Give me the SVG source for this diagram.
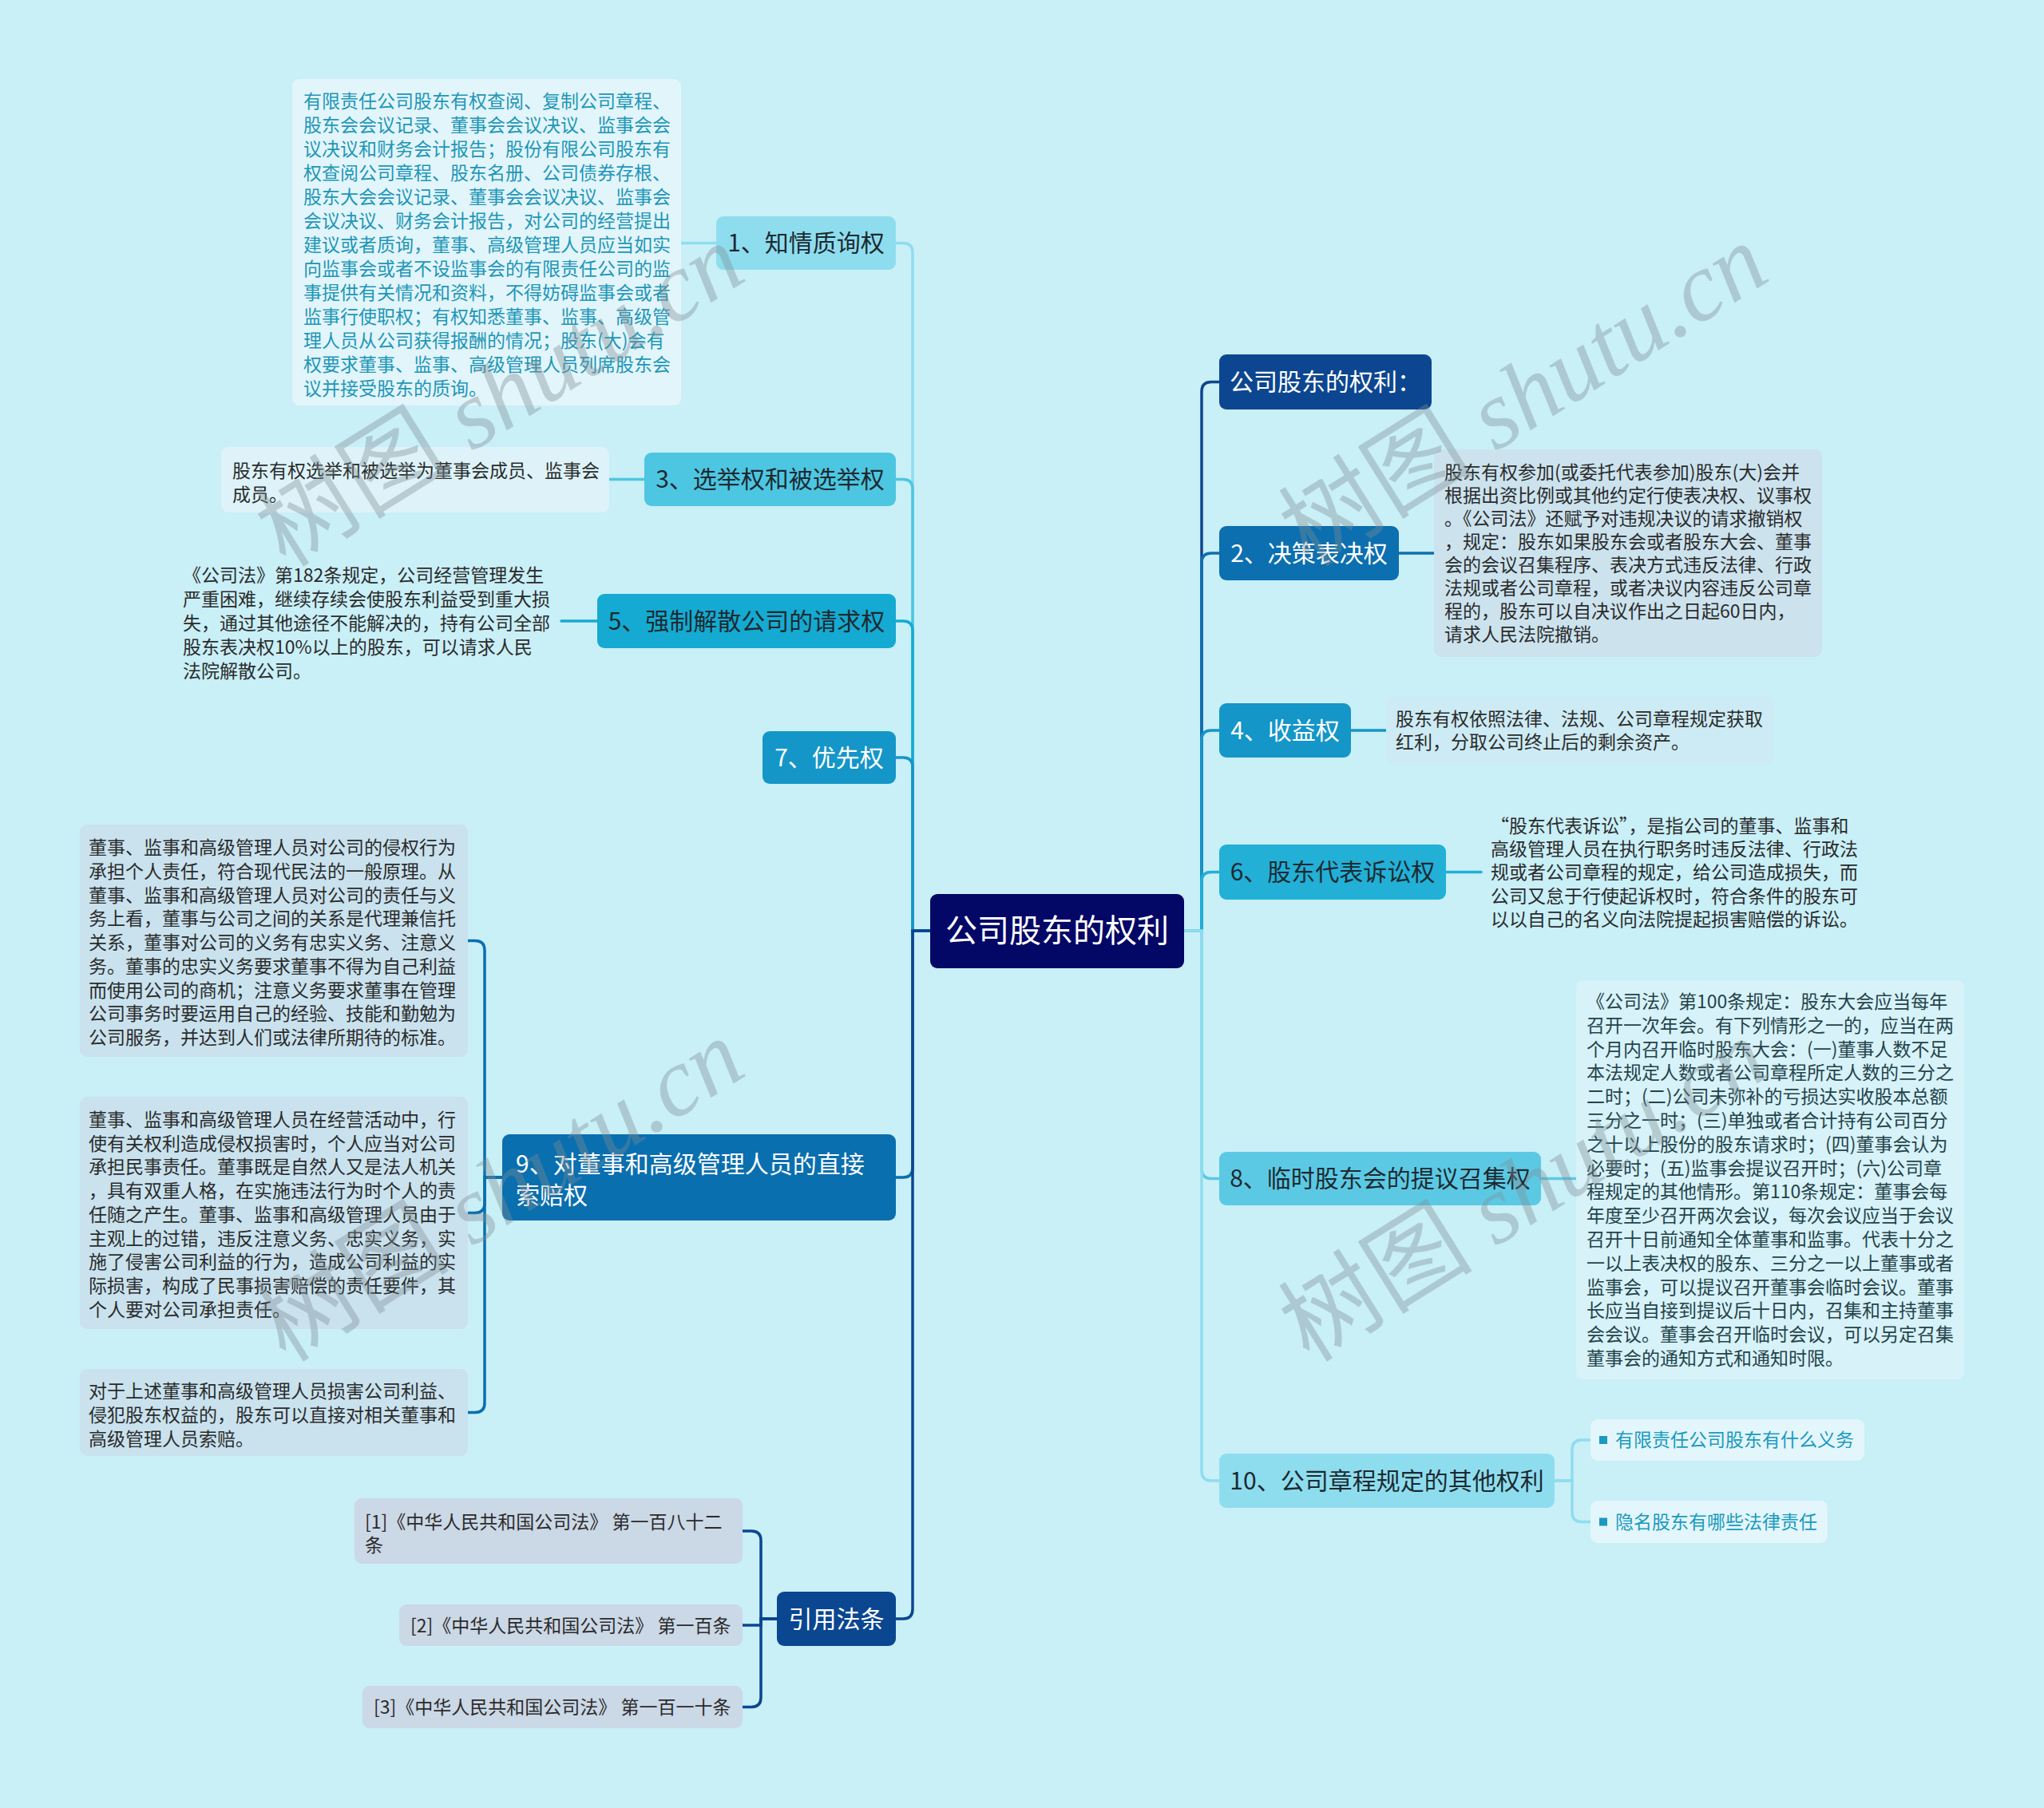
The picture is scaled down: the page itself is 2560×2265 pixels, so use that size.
<svg xmlns="http://www.w3.org/2000/svg" width="2560" height="2265" viewBox="0 0 2560 2265">
<style>
text{font-family:"Noto Sans CJK SC","Liberation Sans",sans-serif;}
.n30{font-size:30px;text-anchor:middle;}
.t23{font-size:23px;fill:#2b2b2b;}
.w{fill:#ffffff;}
.d{fill:#1c2a30;}
.c path{fill:none;stroke-width:3.5;stroke-linecap:round;}
.wm{font-family:"Liberation Serif","Noto Sans CJK SC",serif;font-size:122px;fill:#7E8E94;opacity:0.38;}
</style>
<rect width="2560" height="2265" fill="#C9EFF7"/>

<g id="connectors" class="c">
  <path d="M1165,1166 H1143 V316.5 Q1143,304.5 1131,304.5 H1122" stroke="#8EDDEF"/>
  <path d="M1165,1166 H1143 V612.5 Q1143,600.5 1131,600.5 H1122" stroke="#4DC6E2"/>
  <path d="M1165,1166 H1143 V790 Q1143,778 1131,778 H1122" stroke="#15AAD2"/>
  <path d="M1165,1166 H1143 V961 Q1143,949 1131,949 H1122" stroke="#1596C8"/>
  <path d="M1165,1166 H1143 V1463 Q1143,1475 1131,1475 H1122" stroke="#0A6FAF"/>
  <path d="M1165,1166 H1143 V2016 Q1143,2028 1131,2028 H1122" stroke="#0B4690"/>
  <path d="M1483,1166 H1505 V490.5 Q1505,478.5 1517,478.5 H1527" stroke="#0D4690"/>
  <path d="M1483,1166 H1505 V705 Q1505,693 1517,693 H1527" stroke="#0C6FAF"/>
  <path d="M1483,1166 H1505 V927 Q1505,915 1517,915 H1527" stroke="#1496C8"/>
  <path d="M1483,1166 H1505 V1104.5 Q1505,1092.5 1517,1092.5 H1527" stroke="#22B0D7"/>
  <path d="M1483,1166 H1505 V1464.5 Q1505,1476.5 1517,1476.5 H1527" stroke="#5CC9E4"/>
  <path d="M1483,1166 H1505 V1843 Q1505,1855 1517,1855 H1527" stroke="#8EDDEF"/>
  <path d="M897,304.5 H853" stroke="#8EDDEF"/>
  <path d="M807,600.5 H763" stroke="#4DC6E2"/>
  <path d="M748,778 H703" stroke="#15AAD2"/>
  <path d="M629,1475 H607 V1190.5 Q607,1178.5 595,1178.5 H586" stroke="#0A6FAF"/>
  <path d="M629,1475 H607 V1507.5 Q607,1519.5 595,1519.5 H586" stroke="#0A6FAF"/>
  <path d="M629,1475 H607 V1757.5 Q607,1769.5 595,1769.5 H586" stroke="#0A6FAF"/>
  <path d="M973,2028 H953 V1930 Q953,1918 941,1918 H930" stroke="#0B4690"/>
  <path d="M973,2028 H953 V2036 H930" stroke="#0B4690"/>
  <path d="M973,2028 H953 V2126.5 Q953,2138.5 941,2138.5 H930" stroke="#0B4690"/>
  <path d="M1752,693 H1796" stroke="#0C6FAF"/>
  <path d="M1692,915 H1736" stroke="#1496C8"/>
  <path d="M1811,1092.5 H1855" stroke="#22B0D7"/>
  <path d="M1930,1476.5 H1974" stroke="#5CC9E4"/>
  <path d="M1947,1855 H1969 V1816 Q1969,1804 1981,1804 H1992" stroke="#8EDDEF"/>
  <path d="M1947,1855 H1969 V1894.5 Q1969,1906.5 1981,1906.5 H1992" stroke="#8EDDEF"/>
</g>

<g id="root">
  <rect x="1165" y="1120" width="318" height="93" rx="9" fill="#030766"/>
  <text x="1324" y="1180" class="w" style="font-size:40px;text-anchor:middle">公司股东的权利</text>
</g>

<g id="n1">
  <rect x="897" y="271" width="225" height="67" rx="9" fill="#8EDDEF"/>
  <text x="1009.5" y="315" class="n30 d">1、知情质询权</text>
</g>
<g id="n1d">
  <rect x="366" y="99" width="487" height="409" rx="9" fill="#E2F5FA"/>
  <text class="t23" style="fill:#2196B8">
    <tspan x="380" y="135">有限责任公司股东有权查阅、复制公司章程、</tspan>
    <tspan x="380" y="165">股东会会议记录、董事会会议决议、监事会会</tspan>
    <tspan x="380" y="195">议决议和财务会计报告；股份有限公司股东有</tspan>
    <tspan x="380" y="225">权查阅公司章程、股东名册、公司债券存根、</tspan>
    <tspan x="380" y="255">股东大会会议记录、董事会会议决议、监事会</tspan>
    <tspan x="380" y="285">会议决议、财务会计报告，对公司的经营提出</tspan>
    <tspan x="380" y="315">建议或者质询，董事、高级管理人员应当如实</tspan>
    <tspan x="380" y="345">向监事会或者不设监事会的有限责任公司的监</tspan>
    <tspan x="380" y="375">事提供有关情况和资料，不得妨碍监事会或者</tspan>
    <tspan x="380" y="405">监事行使职权；有权知悉董事、监事、高级管</tspan>
    <tspan x="380" y="435">理人员从公司获得报酬的情况；股东(大)会有</tspan>
    <tspan x="380" y="465">权要求董事、监事、高级管理人员列席股东会</tspan>
    <tspan x="380" y="495">议并接受股东的质询。</tspan>
  </text>
</g>

<g id="n3">
  <rect x="807" y="567" width="315" height="67" rx="9" fill="#4DC6E2"/>
  <text x="964.5" y="611" class="n30 d">3、选举权和被选举权</text>
</g>
<g id="n3d">
  <rect x="277" y="560" width="486" height="82" rx="9" fill="#DDF3F9"/>
  <text class="t23">
    <tspan x="291" y="598">股东有权选举和被选举为董事会成员、监事会</tspan>
    <tspan x="291" y="628">成员。</tspan>
  </text>
</g>

<g id="n5">
  <rect x="748" y="744" width="374" height="68" rx="9" fill="#15AAD2"/>
  <text x="935" y="788.5" class="n30 d">5、强制解散公司的请求权</text>
</g>
<g id="n5d">
  <text class="t23">
    <tspan x="229" y="729">《公司法》第182条规定，公司经营管理发生</tspan>
    <tspan x="229" y="759">严重困难，继续存续会使股东利益受到重大损</tspan>
    <tspan x="229" y="789">失，通过其他途径不能解决的，持有公司全部</tspan>
    <tspan x="229" y="819">股东表决权10%以上的股东，可以请求人民</tspan>
    <tspan x="229" y="849">法院解散公司。</tspan>
  </text>
</g>

<g id="n7">
  <rect x="955" y="916" width="167" height="66" rx="9" fill="#1596C8"/>
  <text x="1038.5" y="959.5" class="n30 w">7、优先权</text>
</g>

<g id="n9">
  <rect x="629" y="1421" width="493" height="108" rx="9" fill="#0A6FAF"/>
  <text style="font-size:30px" class="w">
    <tspan x="646" y="1468.5">9、对董事和高级管理人员的直接</tspan>
    <tspan x="646" y="1507.5">索赔权</tspan>
  </text>
</g>
<g id="n9a">
  <rect x="100" y="1033" width="486" height="291" rx="9" fill="#C9E2EE"/>
  <text class="t23">
    <tspan x="111" y="1070">董事、监事和高级管理人员对公司的侵权行为</tspan>
    <tspan x="111" y="1099.75">承担个人责任，符合现代民法的一般原理。从</tspan>
    <tspan x="111" y="1129.5">董事、监事和高级管理人员对公司的责任与义</tspan>
    <tspan x="111" y="1159.25">务上看，董事与公司之间的关系是代理兼信托</tspan>
    <tspan x="111" y="1189">关系，董事对公司的义务有忠实义务、注意义</tspan>
    <tspan x="111" y="1218.75">务。董事的忠实义务要求董事不得为自己利益</tspan>
    <tspan x="111" y="1248.5">而使用公司的商机；注意义务要求董事在管理</tspan>
    <tspan x="111" y="1278.25">公司事务时要运用自己的经验、技能和勤勉为</tspan>
    <tspan x="111" y="1308">公司服务，并达到人们或法律所期待的标准。</tspan>
  </text>
</g>
<g id="n9b">
  <rect x="100" y="1374" width="486" height="291" rx="9" fill="#C9E2EE"/>
  <text class="t23">
    <tspan x="111" y="1411">董事、监事和高级管理人员在经营活动中，行</tspan>
    <tspan x="111" y="1440.7">使有关权利造成侵权损害时，个人应当对公司</tspan>
    <tspan x="111" y="1470.4">承担民事责任。董事既是自然人又是法人机关</tspan>
    <tspan x="111" y="1500.1">，具有双重人格，在实施违法行为时个人的责</tspan>
    <tspan x="111" y="1529.8">任随之产生。董事、监事和高级管理人员由于</tspan>
    <tspan x="111" y="1559.5">主观上的过错，违反注意义务、忠实义务，实</tspan>
    <tspan x="111" y="1589.2">施了侵害公司利益的行为，造成公司利益的实</tspan>
    <tspan x="111" y="1618.9">际损害，构成了民事损害赔偿的责任要件，其</tspan>
    <tspan x="111" y="1648.6">个人要对公司承担责任。</tspan>
  </text>
</g>
<g id="n9c">
  <rect x="100" y="1715" width="486" height="109" rx="9" fill="#C9E2EE"/>
  <text class="t23">
    <tspan x="111" y="1751">对于上述董事和高级管理人员损害公司利益、</tspan>
    <tspan x="111" y="1781">侵犯股东权益的，股东可以直接对相关董事和</tspan>
    <tspan x="111" y="1811">高级管理人员索赔。</tspan>
  </text>
</g>

<g id="law">
  <rect x="973" y="1994" width="149" height="68" rx="9" fill="#0B4690"/>
  <text x="1047.5" y="2038.5" class="n30 w">引用法条</text>
</g>
<g id="law1">
  <rect x="444" y="1877" width="486" height="82" rx="9" fill="#CBD8E6"/>
  <text class="t23">
    <tspan x="457" y="1915">[1]《中华人民共和国公司法》 第一百八十二</tspan>
    <tspan x="457" y="1944">条</tspan>
  </text>
</g>
<g id="law2">
  <rect x="500" y="2010" width="430" height="52" rx="9" fill="#CBD8E6"/>
  <text x="514" y="2045" class="t23">[2]《中华人民共和国公司法》 第一百条</text>
</g>
<g id="law3">
  <rect x="454" y="2112" width="476" height="53" rx="9" fill="#CBD8E6"/>
  <text x="468" y="2147" class="t23">[3]《中华人民共和国公司法》 第一百一十条</text>
</g>

<g id="r0">
  <rect x="1527" y="444" width="266" height="69" rx="9" fill="#0D4690"/>
  <text x="1660" y="489" class="n30 w">公司股东的权利：</text>
</g>

<g id="n2">
  <rect x="1527" y="659" width="225" height="68" rx="9" fill="#0C6FAF"/>
  <text x="1639.5" y="703.5" class="n30 w">2、决策表决权</text>
</g>
<g id="n2d">
  <rect x="1796" y="563" width="486" height="260" rx="9" fill="#CCE3EE"/>
  <text class="t23">
    <tspan x="1809" y="600">股东有权参加(或委托代表参加)股东(大)会并</tspan>
    <tspan x="1809" y="629">根据出资比例或其他约定行使表决权、议事权</tspan>
    <tspan x="1809" y="658">。《公司法》还赋予对违规决议的请求撤销权</tspan>
    <tspan x="1809" y="687">，规定：股东如果股东会或者股东大会、董事</tspan>
    <tspan x="1809" y="716">会的会议召集程序、表决方式违反法律、行政</tspan>
    <tspan x="1809" y="745">法规或者公司章程，或者决议内容违反公司章</tspan>
    <tspan x="1809" y="774">程的，股东可以自决议作出之日起60日内，</tspan>
    <tspan x="1809" y="803">请求人民法院撤销。</tspan>
  </text>
</g>

<g id="n4">
  <rect x="1527" y="881" width="165" height="68" rx="9" fill="#1496C8"/>
  <text x="1609.5" y="925.5" class="n30 w">4、收益权</text>
</g>
<g id="n4d">
  <rect x="1736" y="873" width="486" height="84" rx="9" fill="#CDEBF4"/>
  <text class="t23">
    <tspan x="1748" y="909">股东有权依照法律、法规、公司章程规定获取</tspan>
    <tspan x="1748" y="938">红利，分取公司终止后的剩余资产。</tspan>
  </text>
</g>

<g id="n6">
  <rect x="1527" y="1058" width="284" height="69" rx="9" fill="#22B0D7"/>
  <text x="1669" y="1103" class="n30 d">6、股东代表诉讼权</text>
</g>
<g id="n6d">
  <text class="t23">
    <tspan x="1867" y="1043">“股东代表诉讼”，是指公司的董事、监事和</tspan>
    <tspan x="1867" y="1072.2">高级管理人员在执行职务时违反法律、行政法</tspan>
    <tspan x="1867" y="1101.4">规或者公司章程的规定，给公司造成损失，而</tspan>
    <tspan x="1867" y="1130.6">公司又怠于行使起诉权时，符合条件的股东可</tspan>
    <tspan x="1867" y="1159.8">以以自己的名义向法院提起损害赔偿的诉讼。</tspan>
  </text>
</g>

<g id="n8">
  <rect x="1527" y="1443" width="403" height="67" rx="9" fill="#5CC9E4"/>
  <text x="1728.5" y="1487" class="n30 d">8、临时股东会的提议召集权</text>
</g>
<g id="n8d">
  <rect x="1974" y="1228" width="486" height="500" rx="9" fill="#D7F2F8"/>
  <text class="t23" style="fill:#24434B">
    <tspan x="1987" y="1263">《公司法》第100条规定：股东大会应当每年</tspan>
    <tspan x="1987" y="1292.8">召开一次年会。有下列情形之一的，应当在两</tspan>
    <tspan x="1987" y="1322.6">个月内召开临时股东大会：(一)董事人数不足</tspan>
    <tspan x="1987" y="1352.4">本法规定人数或者公司章程所定人数的三分之</tspan>
    <tspan x="1987" y="1382.2">二时；(二)公司未弥补的亏损达实收股本总额</tspan>
    <tspan x="1987" y="1412">三分之一时；(三)单独或者合计持有公司百分</tspan>
    <tspan x="1987" y="1441.8">之十以上股份的股东请求时；(四)董事会认为</tspan>
    <tspan x="1987" y="1471.6">必要时；(五)监事会提议召开时；(六)公司章</tspan>
    <tspan x="1987" y="1501.4">程规定的其他情形。第110条规定：董事会每</tspan>
    <tspan x="1987" y="1531.2">年度至少召开两次会议，每次会议应当于会议</tspan>
    <tspan x="1987" y="1561">召开十日前通知全体董事和监事。代表十分之</tspan>
    <tspan x="1987" y="1590.8">一以上表决权的股东、三分之一以上董事或者</tspan>
    <tspan x="1987" y="1620.6">监事会，可以提议召开董事会临时会议。董事</tspan>
    <tspan x="1987" y="1650.4">长应当自接到提议后十日内，召集和主持董事</tspan>
    <tspan x="1987" y="1680.2">会会议。董事会召开临时会议，可以另定召集</tspan>
    <tspan x="1987" y="1710">董事会的通知方式和通知时限。</tspan>
  </text>
</g>

<g id="n10">
  <rect x="1527" y="1821" width="420" height="68" rx="9" fill="#8EDDEF"/>
  <text x="1737" y="1865.5" class="n30 d">10、公司章程规定的其他权利</text>
</g>
<g id="n10a">
  <rect x="1992" y="1778" width="343" height="52" rx="9" fill="#E3F6FB"/>
  <rect x="2003" y="1799" width="10" height="10" fill="#1A9AC0"/>
  <text x="2023" y="1812" class="t23" style="fill:#1A9AC0">有限责任公司股东有什么义务</text>
</g>
<g id="n10b">
  <rect x="1992" y="1880" width="297" height="53" rx="9" fill="#E3F6FB"/>
  <rect x="2003" y="1901.5" width="10" height="10" fill="#1A9AC0"/>
  <text x="2023" y="1914.5" class="t23" style="fill:#1A9AC0">隐名股东有哪些法律责任</text>
</g>

<g id="watermarks">
  <text class="wm" transform="translate(358,712) rotate(-32)">树图 <tspan font-style="italic">shutu.cn</tspan></text>
  <text class="wm" transform="translate(1640,712) rotate(-32)">树图 <tspan font-style="italic">shutu.cn</tspan></text>
  <text class="wm" transform="translate(358,1708) rotate(-32)">树图 <tspan font-style="italic">shutu.cn</tspan></text>
  <text class="wm" transform="translate(1640,1708) rotate(-32)">树图 <tspan font-style="italic">shutu.cn</tspan></text>
</g>
</svg>
